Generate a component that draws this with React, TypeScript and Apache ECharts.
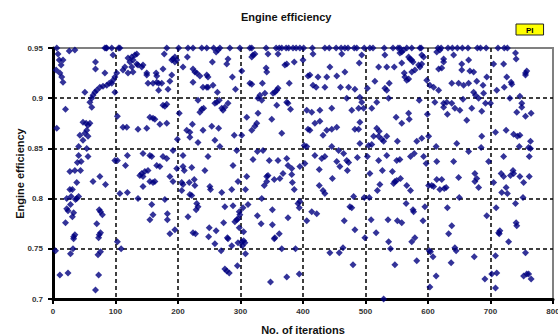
import { useEffect, useRef } from "react";
import * as echarts from "echarts";

// Axis ticks
const xTicks = [0, 100, 200, 300, 400, 500, 600, 700, 800];
const yTicks = [0.7, 0.75, 0.8, 0.85, 0.9, 0.95];

// Iterations whose efficiency sits at the 0.95 ceiling
const ceilingRuns = [
  6, 83, 85, 86, 94, 105, 107, 182, 201, 216, 224, 238, 246, 257, 267, 283, 299, 315, 318, 341,
  357, 362, 366, 373, 377, 384, 389, 395, 401, 415, 435, 442, 453, 461, 467, 472, 482, 486, 498,
  507, 512, 530, 544, 552, 555, 566, 574, 587, 589, 616, 621, 632, 639, 647, 655, 664, 679, 684,
  693, 712, 722, 727,
];

// [iteration, efficiency] samples, grouped by hundreds of iterations
const runs0to99 = [
  [8, 0.944], [26, 0.947], [35, 0.948], [96, 0.943], [10, 0.938], [16, 0.938], [13, 0.933], [5, 0.928],
  [11, 0.925], [14, 0.921], [16, 0.916], [68, 0.936], [68, 0.929], [83, 0.925], [99, 0.921], [96, 0.918],
  [94, 0.915], [90, 0.915], [86, 0.913], [80, 0.912], [75, 0.911], [70, 0.908], [67, 0.906], [64, 0.903],
  [62, 0.9], [59, 0.896], [99, 0.906], [51, 0.906], [20, 0.889], [62, 0.891], [6, 0.87], [48, 0.876],
  [53, 0.875], [56, 0.873], [59, 0.875], [54, 0.868], [51, 0.865], [43, 0.863], [56, 0.862], [48, 0.858],
  [41, 0.852], [54, 0.85], [41, 0.843], [56, 0.842], [39, 0.836], [45, 0.837], [27, 0.827], [35, 0.828],
  [44, 0.828], [99, 0.838], [75, 0.822], [38, 0.816], [64, 0.817], [84, 0.814], [27, 0.809], [31, 0.809],
  [22, 0.8], [29, 0.802], [38, 0.8], [41, 0.802], [36, 0.799], [28, 0.794], [22, 0.79], [24, 0.788],
  [33, 0.786], [31, 0.782], [74, 0.789], [76, 0.787], [79, 0.784], [20, 0.776], [70, 0.775], [76, 0.766],
  [74, 0.764], [73, 0.761], [35, 0.764], [33, 0.762], [33, 0.76], [4, 0.748], [32, 0.75], [28, 0.745],
  [76, 0.747], [72, 0.744], [11, 0.724], [24, 0.726], [73, 0.724], [68, 0.709],
];

const runs100to199 = [
  [102, 0.925], [120, 0.94], [126, 0.941], [131, 0.943], [134, 0.944], [128, 0.938], [123, 0.936],
  [134, 0.934], [136, 0.933], [126, 0.931], [128, 0.926], [120, 0.925], [112, 0.928], [115, 0.931],
  [103, 0.882], [112, 0.871], [118, 0.871], [136, 0.869], [103, 0.838], [119, 0.843], [116, 0.833],
  [139, 0.823], [107, 0.805], [119, 0.806], [136, 0.8], [103, 0.757], [109, 0.75], [178, 0.944],
  [195, 0.941], [192, 0.939], [198, 0.938], [190, 0.938], [195, 0.936], [144, 0.933], [142, 0.931],
  [150, 0.925], [150, 0.923], [165, 0.925], [166, 0.922], [176, 0.929], [190, 0.923], [187, 0.917],
  [152, 0.915], [160, 0.915], [166, 0.916], [169, 0.915], [174, 0.915], [169, 0.908], [184, 0.909],
  [176, 0.893], [179, 0.892], [182, 0.894], [155, 0.881], [160, 0.88], [163, 0.879], [182, 0.875],
  [171, 0.874], [150, 0.87], [199, 0.859], [144, 0.845], [155, 0.843], [158, 0.842], [176, 0.842],
  [182, 0.84], [192, 0.848], [166, 0.833], [171, 0.832], [198, 0.83], [142, 0.825], [147, 0.827],
  [152, 0.828], [144, 0.822], [155, 0.817], [160, 0.816], [163, 0.817], [144, 0.812], [187, 0.822],
  [192, 0.817], [179, 0.799], [158, 0.794], [183, 0.785], [183, 0.779], [160, 0.784], [155, 0.779],
  [195, 0.769], [187, 0.765],
];

const runs200to299 = [
  [208, 0.931], [215, 0.941], [224, 0.929], [227, 0.926], [230, 0.925], [235, 0.922], [246, 0.923],
  [248, 0.921], [224, 0.916], [240, 0.911], [246, 0.911], [248, 0.911], [256, 0.913], [255, 0.936],
  [261, 0.946], [264, 0.948], [280, 0.939], [278, 0.934], [287, 0.921], [263, 0.906], [292, 0.909],
  [232, 0.898], [259, 0.895], [262, 0.896], [266, 0.898], [270, 0.89], [272, 0.888], [275, 0.891],
  [280, 0.895], [235, 0.886], [238, 0.889], [241, 0.89], [202, 0.885], [223, 0.874], [214, 0.868],
  [219, 0.866], [240, 0.868], [254, 0.872], [265, 0.87], [219, 0.861], [232, 0.856], [259, 0.858],
  [267, 0.852], [290, 0.863], [294, 0.848], [248, 0.842], [208, 0.843], [208, 0.832], [222, 0.831],
  [288, 0.833], [210, 0.828], [243, 0.828], [206, 0.816], [208, 0.814], [218, 0.816], [226, 0.819],
  [227, 0.813], [206, 0.808], [219, 0.804], [222, 0.803], [251, 0.812], [252, 0.809], [270, 0.806],
  [286, 0.809], [296, 0.817], [230, 0.795], [232, 0.792], [229, 0.789], [216, 0.782], [275, 0.792],
  [288, 0.793], [298, 0.787], [296, 0.78], [294, 0.779], [291, 0.777], [299, 0.784], [273, 0.776],
  [224, 0.766], [228, 0.765], [250, 0.771], [261, 0.768], [249, 0.762], [279, 0.761], [280, 0.76],
  [298, 0.771], [259, 0.755], [286, 0.753], [296, 0.756], [269, 0.748], [275, 0.73], [278, 0.728],
  [282, 0.726], [295, 0.733],
];

const runs300to399 = [
  [302, 0.927], [318, 0.941], [320, 0.943], [323, 0.944], [315, 0.915], [318, 0.914], [335, 0.915],
  [341, 0.93], [342, 0.926], [344, 0.944], [360, 0.944], [371, 0.933], [374, 0.934], [386, 0.936],
  [378, 0.915], [331, 0.903], [328, 0.9], [334, 0.898], [339, 0.905], [352, 0.905], [355, 0.906],
  [358, 0.908], [360, 0.91], [358, 0.893], [374, 0.896], [376, 0.895], [380, 0.889], [302, 0.863],
  [310, 0.881], [323, 0.872], [326, 0.875], [318, 0.868], [350, 0.879], [328, 0.885], [366, 0.865],
  [327, 0.847], [336, 0.848], [346, 0.838], [360, 0.838], [374, 0.84], [320, 0.839], [382, 0.83],
  [395, 0.832], [376, 0.833], [308, 0.809], [310, 0.822], [342, 0.822], [344, 0.823], [338, 0.813],
  [342, 0.817], [354, 0.819], [363, 0.82], [368, 0.825], [382, 0.824], [383, 0.816], [386, 0.809],
  [304, 0.791], [312, 0.794], [334, 0.8], [327, 0.783], [351, 0.789], [376, 0.781], [392, 0.795],
  [394, 0.791], [395, 0.797], [333, 0.775], [351, 0.774], [305, 0.767], [302, 0.757], [305, 0.758],
  [307, 0.756], [303, 0.753], [308, 0.745], [354, 0.76], [355, 0.761], [362, 0.765], [366, 0.75],
  [388, 0.75], [348, 0.717], [374, 0.722], [394, 0.725],
];

const runs400to499 = [
  [400, 0.938], [416, 0.944], [408, 0.922], [411, 0.923], [424, 0.921], [416, 0.913], [421, 0.911],
  [438, 0.921], [443, 0.931], [435, 0.911], [454, 0.922], [462, 0.944], [494, 0.943], [490, 0.935],
  [467, 0.926], [460, 0.911], [473, 0.911], [483, 0.909], [470, 0.9], [491, 0.901], [494, 0.896],
  [478, 0.888], [489, 0.89], [497, 0.89], [406, 0.888], [414, 0.886], [427, 0.888], [446, 0.89],
  [419, 0.875], [427, 0.877], [408, 0.869], [411, 0.868], [432, 0.863], [438, 0.868], [446, 0.869],
  [454, 0.871], [491, 0.876], [483, 0.869], [489, 0.869], [491, 0.855], [402, 0.853], [406, 0.852],
  [419, 0.843], [430, 0.84], [435, 0.842], [446, 0.852], [457, 0.848], [465, 0.845], [470, 0.838],
  [487, 0.841], [454, 0.837], [473, 0.836], [471, 0.828], [459, 0.832], [403, 0.835], [426, 0.829],
  [426, 0.813], [432, 0.808], [435, 0.805], [447, 0.82], [406, 0.778], [414, 0.787], [422, 0.785],
  [481, 0.802], [498, 0.801], [475, 0.792], [478, 0.791], [466, 0.778], [483, 0.769], [499, 0.761],
  [464, 0.751], [443, 0.746], [458, 0.746], [480, 0.734],
];

const runs500to599 = [
  [555, 0.945], [558, 0.946], [561, 0.948], [569, 0.941], [571, 0.939], [574, 0.938], [576, 0.936],
  [590, 0.943], [593, 0.941], [531, 0.943], [521, 0.931], [534, 0.931], [546, 0.931], [558, 0.935],
  [585, 0.933], [590, 0.934], [587, 0.931], [562, 0.925], [563, 0.921], [566, 0.918], [569, 0.919],
  [574, 0.926], [579, 0.928], [598, 0.918], [515, 0.917], [538, 0.915], [503, 0.91], [531, 0.91],
  [534, 0.908], [518, 0.896], [537, 0.9], [586, 0.898], [510, 0.89], [549, 0.881], [569, 0.885],
  [570, 0.879], [558, 0.875], [599, 0.884], [518, 0.87], [522, 0.867], [513, 0.862], [521, 0.862],
  [526, 0.859], [529, 0.857], [534, 0.862], [505, 0.853], [510, 0.854], [551, 0.857], [582, 0.857],
  [590, 0.86], [503, 0.842], [521, 0.838], [534, 0.843], [550, 0.838], [555, 0.839], [572, 0.842],
  [578, 0.845], [593, 0.842], [597, 0.835], [507, 0.825], [527, 0.828], [543, 0.827], [545, 0.815],
  [547, 0.817], [550, 0.818], [556, 0.82], [523, 0.814], [519, 0.808], [566, 0.813], [572, 0.808],
  [506, 0.801], [565, 0.795], [576, 0.789], [577, 0.787], [595, 0.792], [509, 0.779], [536, 0.779],
  [551, 0.778], [558, 0.776], [592, 0.778], [517, 0.766], [537, 0.757], [574, 0.757], [579, 0.761],
  [540, 0.75], [547, 0.734], [582, 0.738], [529, 0.7],
];

const runs600to699 = [
  [614, 0.946], [619, 0.948], [641, 0.943], [625, 0.939], [625, 0.936], [665, 0.938], [617, 0.929],
  [622, 0.93], [654, 0.928], [667, 0.927], [673, 0.926], [654, 0.934], [694, 0.921], [603, 0.913],
  [609, 0.911], [617, 0.908], [638, 0.915], [649, 0.915], [657, 0.913], [665, 0.915], [678, 0.917],
  [688, 0.913], [673, 0.906], [676, 0.903], [681, 0.9], [689, 0.905], [611, 0.896], [625, 0.895],
  [630, 0.896], [638, 0.895], [625, 0.891], [656, 0.899], [692, 0.895], [631, 0.884], [643, 0.89],
  [651, 0.888], [670, 0.89], [686, 0.887], [662, 0.878], [601, 0.862], [613, 0.852], [646, 0.855],
  [665, 0.847], [686, 0.862], [685, 0.851], [614, 0.837], [641, 0.837], [697, 0.837], [601, 0.813],
  [606, 0.813], [609, 0.812], [614, 0.819], [622, 0.819], [619, 0.809], [626, 0.81], [629, 0.811],
  [649, 0.821], [675, 0.825], [678, 0.82], [675, 0.817], [681, 0.811], [650, 0.801], [631, 0.791],
  [694, 0.783], [638, 0.773], [633, 0.765], [602, 0.748], [604, 0.747], [608, 0.742], [643, 0.751],
  [645, 0.748], [674, 0.742], [637, 0.736], [613, 0.723], [691, 0.72], [603, 0.712],
];

const runs700to799 = [
  [740, 0.945], [741, 0.939], [756, 0.925], [758, 0.927], [756, 0.923], [705, 0.934], [721, 0.934],
  [726, 0.921], [733, 0.916], [734, 0.914], [722, 0.911], [710, 0.908], [708, 0.866], [725, 0.868],
  [737, 0.864], [743, 0.862], [747, 0.863], [764, 0.857], [746, 0.852], [761, 0.851], [764, 0.85],
  [721, 0.842], [762, 0.842], [700, 0.895], [731, 0.9], [747, 0.902], [750, 0.895], [750, 0.891],
  [742, 0.886], [756, 0.882], [765, 0.885], [705, 0.816], [717, 0.825], [721, 0.822], [732, 0.823],
  [736, 0.828], [737, 0.825], [747, 0.822], [762, 0.822], [753, 0.816], [725, 0.811], [727, 0.805],
  [718, 0.806], [752, 0.801], [709, 0.791], [740, 0.795], [741, 0.776], [742, 0.773], [715, 0.768],
  [714, 0.765], [713, 0.766], [729, 0.757], [708, 0.743], [756, 0.746], [702, 0.725], [710, 0.726],
  [753, 0.723], [758, 0.725], [761, 0.725], [765, 0.72], [708, 0.711],
];

const FONT = "'Liberation Sans', Arial, sans-serif";

export default function App() {
  const ref = useRef<HTMLDivElement>(null);

  useEffect(() => {
    if (!ref.current) return;
    const chart = echarts.init(ref.current, undefined, { renderer: "svg" });

    const yMax = yTicks[yTicks.length - 1];
    const points = [
      ...ceilingRuns.map((x) => [x, yMax]),
      ...runs0to99,
      ...runs100to199,
      ...runs200to299,
      ...runs300to399,
      ...runs400to499,
      ...runs500to599,
      ...runs600to699,
      ...runs700to799,
    ];

    const gridDash = { color: "#000", width: 1.5, type: [4, 3] as number[] };

    chart.setOption({
      animation: false,
      backgroundColor: "#fff",
      textStyle: { fontFamily: FONT },
      title: {
        text: "Engine efficiency",
        left: 241,
        top: 11,
        padding: 0,
        textStyle: { fontSize: 11, fontWeight: "bold", color: "#111", fontFamily: FONT },
      },
      legend: {
        data: [{ name: "PI", icon: "none" }],
        left: 516,
        top: 24,
        orient: "horizontal",
        itemWidth: 0,
        itemHeight: 0,
        padding: [2, 10, 1, 5],
        backgroundColor: "#ffff00",
        borderColor: "#222",
        borderWidth: 1,
        borderRadius: 0,
        textStyle: { fontSize: 8, fontWeight: "bold", color: "#000", fontFamily: FONT },
      },
      grid: {
        left: 53,
        right: 5,
        top: 48,
        bottom: 35,
        show: true,
        borderColor: "#808080",
        borderWidth: 2,
        backgroundColor: "#fff",
        containLabel: false,
        outerBoundsMode: "none",
      },
      xAxis: {
        type: "value",
        min: xTicks[0],
        max: xTicks[xTicks.length - 1],
        interval: xTicks[1] - xTicks[0],
        name: "No. of iterations",
        nameLocation: "middle",
        nameGap: 25,
        nameMoveOverlap: false,
        nameTextStyle: { fontSize: 11, fontWeight: "bold", color: "#111", fontFamily: FONT },
        axisLine: { show: true, onZero: false, lineStyle: { color: "#000", width: 3 } },
        axisTick: { show: true, length: 5, lineStyle: { color: "#000", width: 2 } },
        axisLabel: { fontSize: 8, fontWeight: "bold", color: "#333", margin: 8, fontFamily: FONT },
        splitLine: { show: true, showMinLine: false, showMaxLine: false, lineStyle: gridDash },
      },
      yAxis: {
        type: "value",
        min: yTicks[0],
        max: yMax,
        interval: 0.05,
        name: "Engine efficiency",
        nameLocation: "middle",
        nameGap: 28,
        nameMoveOverlap: false,
        nameTextStyle: { fontSize: 11, fontWeight: "bold", color: "#111", fontFamily: FONT },
        axisLine: { show: true, onZero: false, lineStyle: { color: "#000", width: 3 } },
        axisTick: { show: true, length: 5, lineStyle: { color: "#000", width: 2 } },
        axisLabel: { fontSize: 8, fontWeight: "bold", color: "#333", margin: 10, fontFamily: FONT },
        splitLine: { show: true, showMinLine: false, showMaxLine: false, lineStyle: gridDash },
      },
      series: [
        {
          name: "PI",
          type: "scatter",
          data: points,
          symbol: "diamond",
          symbolSize: 7,
          clip: false,
          z: 10,
          itemStyle: { color: "#000080" },
        },
      ],
    });

    return () => chart.dispose();
  }, []);

  return (
    <div
      ref={ref}
      style={{ position: "fixed", left: 0, top: 0, width: 558, height: 334 }}
    />
  );
}
